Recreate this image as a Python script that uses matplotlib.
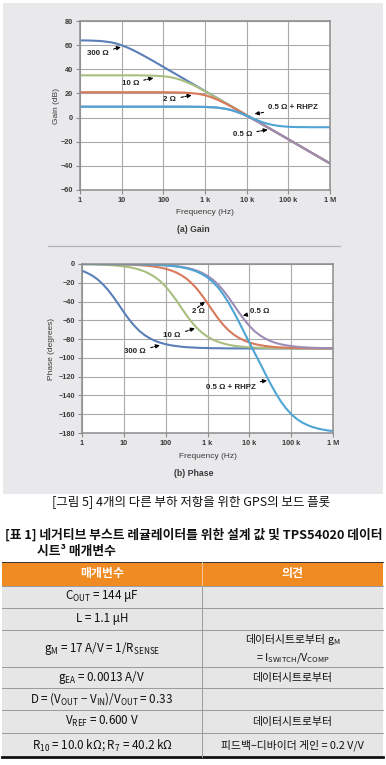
import matplotlib
matplotlib.use("Agg")
import matplotlib.pyplot as plt
from matplotlib.patches import Rectangle
from matplotlib.lines import Line2D

# ---------------- data ----------------
freq = [1, 1.33, 1.78, 2.37, 3.16, 4.22, 5.62, 7.5,
        10, 13.3, 17.8, 23.7, 31.6, 42.2, 56.2, 75,
        100, 133, 178, 237, 316, 422, 562, 750,
        1000, 1330, 1780, 2370, 3160, 4220, 5620, 7500,
        10000, 13300, 17800, 23700, 31600, 42200, 56200, 75000,
        100000, 133000, 178000, 237000, 316000, 422000, 562000, 750000,
        1000000]

series_names = ["300 Ω", "10 Ω", "2 Ω", "0.5 Ω", "0.5 Ω + RHPZ"]
series_colors = ["#5b7fb8", "#a9bf80", "#d8795a", "#9d8cb5", "#4ea5d4"]

gain_300 = [63.9, 63.9, 63.8, 63.6, 63.4, 62.9, 62.3, 61.3,
            59.9, 58.2, 56.3, 54.1, 51.8, 49.4, 47.0, 44.5,
            42.0, 39.5, 37.0, 34.5, 32.0, 29.5, 27.0, 24.5,
            22.0, 19.5, 17.0, 14.5, 12.0, 9.5, 7.0, 4.5,
            2.0, -0.5, -3.0, -5.5, -8.0, -10.5, -13.0, -15.5,
            -18.0, -20.5, -23.0, -25.5, -28.0, -30.5, -33.0, -35.5,
            -38.0]
gain_10 = [35.0, 35.0, 35.0, 35.0, 35.0, 35.0, 35.0, 35.0,
           35.0, 35.0, 35.0, 35.0, 34.9, 34.8, 34.7, 34.5,
           34.2, 33.7, 32.9, 31.7, 30.2, 28.4, 26.4, 24.1,
           21.8, 19.4, 16.9, 14.5, 12.0, 9.5, 7.0, 4.5,
           2.0, -0.5, -3.0, -5.5, -8.0, -10.5, -13.0, -15.5,
           -18.0, -20.5, -23.0, -25.5, -28.0, -30.5, -33.0, -35.5,
           -38.0]
gain_2 = [21.0, 21.0, 21.0, 21.0, 21.0, 21.0, 21.0, 21.0,
          21.0, 21.0, 21.0, 21.0, 21.0, 21.0, 21.0, 21.0,
          21.0, 20.9, 20.9, 20.8, 20.7, 20.4, 20.0, 19.4,
          18.5, 17.2, 15.5, 13.6, 11.5, 9.2, 6.8, 4.4,
          1.9, -0.5, -3.0, -5.5, -8.0, -10.5, -13.0, -15.5,
          -18.0, -20.5, -23.0, -25.5, -28.0, -30.5, -33.0, -35.5,
          -38.0]
gain_05 = [9.0, 9.0, 9.0, 9.0, 9.0, 9.0, 9.0, 9.0,
           9.0, 9.0, 9.0, 9.0, 9.0, 9.0, 9.0, 9.0,
           9.0, 9.0, 9.0, 9.0, 9.0, 9.0, 8.9, 8.9,
           8.8, 8.6, 8.4, 7.9, 7.2, 6.2, 4.9, 3.2,
           1.2, -1.0, -3.3, -5.7, -8.1, -10.5, -13.0, -15.5,
           -18.0, -20.5, -23.0, -25.5, -28.0, -30.5, -33.0, -35.5,
           -38.0]
gain_rhpz = [9.0, 9.0, 9.0, 9.0, 9.0, 9.0, 9.0, 9.0,
             9.0, 9.0, 9.0, 9.0, 9.0, 9.0, 9.0, 9.0,
             9.0, 9.0, 9.0, 9.0, 9.0, 9.0, 8.9, 8.9,
             8.8, 8.6, 8.4, 7.9, 7.2, 6.3, 5.0, 3.4,
             1.6, -0.3, -2.1, -3.8, -5.1, -6.1, -6.8, -7.3,
             -7.6, -7.8, -7.9, -7.9, -8.0, -8.0, -8.0, -8.0,
             -8.0]

phase_300 = [-7.1, -9.5, -12.5, -16.5, -21.6, -27.8, -35.1, -43.1,
             -51.3, -59.0, -65.8, -71.4, -75.8, -79.3, -81.9, -83.9,
             -85.4, -86.6, -87.4, -88.1, -88.6, -88.9, -89.2, -89.4,
             -89.5, -89.7, -89.7, -89.8, -89.9, -89.9, -89.9, -89.9,
             -90.0, -90.0, -90.0, -90.0, -90.0, -90.0, -90.0, -90.0,
             -90.0, -90.0, -90.0, -90.0, -90.0, -90.0, -90.0, -90.0,
             -90.0]
phase_10 = [-0.3, -0.3, -0.5, -0.6, -0.8, -1.1, -1.4, -1.9,
            -2.6, -3.4, -4.5, -6.0, -8.0, -10.7, -14.1, -18.5,
            -24.1, -30.8, -38.4, -46.6, -54.7, -62.0, -68.3, -73.4,
            -77.4, -80.5, -82.8, -84.6, -86.0, -87.0, -87.7, -88.3,
            -88.7, -89.0, -89.3, -89.5, -89.6, -89.7, -89.8, -89.8,
            -89.9, -89.9, -89.9, -89.9, -90.0, -90.0, -90.0, -90.0,
            -90.0]
phase_2 = [-0.1, -0.1, -0.1, -0.1, -0.2, -0.2, -0.3, -0.4,
           -0.5, -0.7, -0.9, -1.2, -1.6, -2.2, -2.9, -3.8,
           -5.1, -6.8, -9.0, -11.9, -15.7, -20.6, -26.6, -33.8,
           -41.7, -49.9, -57.8, -64.7, -70.5, -75.1, -78.7, -81.5,
           -83.6, -85.2, -86.4, -87.3, -88.0, -88.5, -88.9, -89.1,
           -89.4, -89.5, -89.6, -89.7, -89.8, -89.9, -89.9, -89.9,
           -89.9]
phase_05 = [0.0, 0.0, 0.0, 0.0, 0.0, -0.1, -0.1, -0.1,
            -0.1, -0.2, -0.2, -0.3, -0.4, -0.5, -0.7, -1.0,
            -1.3, -1.7, -2.3, -3.0, -4.1, -5.4, -7.2, -9.5,
            -12.6, -16.6, -21.7, -28.0, -35.3, -43.4, -51.5, -59.2,
            -65.9, -71.5, -75.9, -79.3, -82.0, -84.0, -85.5, -86.6,
            -87.4, -88.1, -88.6, -88.9, -89.2, -89.4, -89.5, -89.7,
            -89.7]
phase_rhpz = [0.0, 0.0, 0.0, 0.0, -0.1, -0.1, -0.1, -0.1,
              -0.1, -0.2, -0.3, -0.3, -0.5, -0.6, -0.8, -1.1,
              -1.5, -2.0, -2.6, -3.5, -4.6, -6.2, -8.2, -10.9,
              -14.4, -19.1, -24.9, -32.3, -41.0, -51.0, -61.6, -72.6,
              -83.5, -94.4, -105.2, -116.2, -127.0, -137.1, -146.1, -153.7,
              -159.9, -164.7, -168.5, -171.3, -173.5, -175.1, -176.3, -177.3,
              -177.9]

gains = [gain_300, gain_10, gain_2, gain_05, gain_rhpz]
phases = [phase_300, phase_10, phase_2, phase_05, phase_rhpz]

x_ticks = [1, 10, 100, 1000, 10000, 100000, 1000000]
x_tick_labels = ["1", "10", "100", "1 k", "10 k", "100 k", "1 M"]
gain_ticks = [-60, -40, -20, 0, 20, 40, 60, 80]
phase_ticks = [-180, -160, -140, -120, -100, -80, -60, -40, -20, 0]

# annotations: (label, arrow head x, y, text x, y, ha)
gain_notes = [
    ("300 Ω", 9.6, 58.5, 4.9, 53.0, "right"),
    ("10 Ω", 58, 32.8, 26, 28.5, "right"),
    ("2 Ω", 480, 18.6, 205, 14.8, "right"),
    ("0.5 Ω + RHPZ", 15500, 3.0, 33000, 8.6, "left"),
    ("0.5 Ω", 32000, -10.0, 13500, -13.8, "right"),
]
phase_notes = [
    ("300 Ω", 73, -86.5, 34, -93.5, "right"),
    ("10 Ω", 500, -68.5, 230, -76.5, "right"),
    ("0.5 Ω", 7000, -55.0, 10500, -50.5, "left"),
    ("0.5 Ω + RHPZ", 26500, -124.0, 14000, -131.5, "right"),
]
phase_note_2 = ("2 Ω", 870, -40.0, 620, -51.0)

caption = "[그림 5] 4개의 다른 부하 저항을 위한 GPS의 보드 플롯"
table_title_1 = "[표 1] 네거티브 부스트 레귤레이터를 위한 설계 값 및 TPS54020 데이터"
table_title_2 = "시트³ 매개변수"
table_header = ["매개변수", "의견"]
table_left = [
    r"C$_\mathregular{OUT}$ = 144 μF",
    "L = 1.1 μH",
    r"g$_\mathregular{M}$ = 17 A/V = 1/R$_\mathregular{SENSE}$",
    r"g$_\mathregular{EA}$ = 0.0013 A/V",
    r"D = (V$_\mathregular{OUT}$ − V$_\mathregular{IN}$)/V$_\mathregular{OUT}$ = 0.33",
    r"V$_\mathregular{REF}$ = 0.600 V",
    r"R$_\mathregular{10}$ = 10.0 kΩ; R$_\mathregular{7}$ = 40.2 kΩ",
]
table_right = [
    "",
    "",
    r"데이터시트로부터 g$_\mathregular{M}$" + "\n" + r"= I$_\mathregular{SWITCH}$/V$_\mathregular{COMP}$",
    "데이터시트로부터",
    "",
    "데이터시트로부터",
    "피드백–디바이더 게인 = 0.2 V/V",
]

# ---------------- layout helpers ----------------
W, H = 386, 765
fig = plt.figure(figsize=(W / 100, H / 100), dpi=100)
fig.patch.set_facecolor("white")


def fx(px):
    return px / W


def fy(py):
    return 1 - py / H


PLOT_FONT = "Liberation Sans"
KFONT = "Noto Sans CJK KR"
TICK_COLOR = "#3a3a3a"

# grey panel
fig.patches.append(Rectangle((fx(3), fy(494)), fx(380), 491 / H, transform=fig.transFigure,
                             facecolor="#e9e9eb", edgecolor="none", zorder=-5))
# separator line between the plots
fig.lines.append(Line2D([fx(48), fx(340)], [fy(246), fy(246)], transform=fig.transFigure,
                        color="#b4b4b4", lw=0.9, zorder=-4))


def style_axes(ax, yticks, ylim, ylabel, ylab_x, xlab_y):
    ax.set_facecolor("white")
    ax.set_xscale("log")
    ax.set_xlim(1, 1e6)
    ax.set_ylim(*ylim)
    ax.set_xticks(x_ticks)
    ax.set_xticklabels(x_tick_labels)
    ax.minorticks_off()
    ax.set_yticks(yticks)
    ax.set_yticklabels([("−%d" % -t) if t < 0 else "%d" % t for t in yticks])
    ax.grid(True, color="#a9a9a9", lw=0.8)
    ax.set_axisbelow(True)
    for s in ax.spines.values():
        s.set_color("#8c8c8c")
        s.set_linewidth(1.1)
    ax.tick_params(axis="both", length=3, width=0.8, color="#8c8c8c", pad=2,
                   labelsize=5.3, labelcolor=TICK_COLOR)
    for lab in ax.get_xticklabels() + ax.get_yticklabels():
        lab.set_fontfamily(PLOT_FONT)
        lab.set_fontweight("bold")
    ax.set_xlabel("Frequency (Hz)", fontsize=6, family=PLOT_FONT, color=TICK_COLOR)
    ax.set_ylabel(ylabel, fontsize=6, family=PLOT_FONT, color=TICK_COLOR)
    ax.xaxis.set_label_coords(0.5, xlab_y)
    ax.yaxis.set_label_coords(ylab_x, 0.5)


def note(ax, label, hx, hy, tx, ty, ha):
    ax.annotate(label, xy=(hx, hy), xytext=(tx, ty), ha=ha, va="center",
                fontsize=5.7, fontweight="bold", family=PLOT_FONT, color="#222222",
                arrowprops=dict(arrowstyle="-|>", color="black", lw=0.8,
                                linestyle=(0, (2.2, 1.2)), mutation_scale=6,
                                shrinkA=1.5, shrinkB=0))


# ---------------- gain plot ----------------
axg = fig.add_axes([fx(80), fy(190), fx(250), 169 / H])
for vals, c in zip(gains, series_colors):
    axg.plot(freq, vals, color=c, lw=1.5, solid_capstyle="butt", solid_joinstyle="round")
style_axes(axg, gain_ticks, (-60, 80), "Gain (dB)", -0.08, -0.112)
for n in gain_notes:
    note(axg, *n)
fig.text(fx(193), fy(229), "(a) Gain", ha="center", va="center", fontsize=6.3,
         fontweight="bold", family=PLOT_FONT, color=TICK_COLOR)

# ---------------- phase plot ----------------
axp = fig.add_axes([fx(82), fy(433), fx(251), 169 / H])
for vals, c in zip(phases, series_colors):
    axp.plot(freq, vals, color=c, lw=1.5, solid_capstyle="butt", solid_joinstyle="round")
style_axes(axp, phase_ticks, (-180, 0), "Phase (degrees)", -0.108, -0.118)
for n in phase_notes:
    note(axp, *n)
lab2, hx2, hy2, tx2, ty2 = phase_note_2
axp.annotate("", xy=(hx2, hy2), xytext=(tx2 * 0.93, hy2 - 6.5),
             arrowprops=dict(arrowstyle="-|>", color="black", lw=0.8,
                             linestyle=(0, (2.2, 1.2)), mutation_scale=6,
                             shrinkA=0, shrinkB=0))
axp.text(tx2, ty2, lab2, ha="center", va="center", fontsize=5.7, fontweight="bold",
         family=PLOT_FONT, color="#222222")
fig.text(fx(194), fy(473), "(b) Phase", ha="center", va="center", fontsize=6.3,
         fontweight="bold", family=PLOT_FONT, color=TICK_COLOR)

# ---------------- caption & table title ----------------
fig.text(fx(191), fy(503), caption, ha="center", va="center", fontsize=9.0,
         family=[KFONT, "DejaVu Sans"], color="#111111")
fig.text(fx(5), fy(535), table_title_1, ha="left", va="center", fontsize=9.2,
         family=[KFONT, "DejaVu Sans"], fontweight="bold", color="#111111")
fig.text(fx(37), fy(551), table_title_2, ha="left", va="center", fontsize=9.2,
         family=[KFONT, "DejaVu Sans"], fontweight="bold", color="#111111")

# ---------------- table ----------------
TL, TR, TM = 2, 383, 202
row_edges = [562, 585.5, 607.5, 630, 667, 688, 710, 733, 757]

# header
fig.patches.append(Rectangle((fx(TL), fy(row_edges[1])), fx(TR - TL), (row_edges[1] - row_edges[0]) / H,
                             transform=fig.transFigure, facecolor="#f08a22", edgecolor="none", zorder=-5))
# body
fig.patches.append(Rectangle((fx(TL), fy(row_edges[-1])), fx(TR - TL), (row_edges[-1] - row_edges[1]) / H,
                             transform=fig.transFigure, facecolor="#e6e6e6", edgecolor="none", zorder=-5))
# lines
fig.lines.append(Line2D([fx(TL), fx(TR)], [fy(row_edges[0]), fy(row_edges[0])],
                        transform=fig.transFigure, color="#333333", lw=0.7))
for e in row_edges[1:-1]:
    fig.lines.append(Line2D([fx(TL), fx(TR)], [fy(e), fy(e)], transform=fig.transFigure,
                            color="#9a9a9a", lw=0.7))
fig.lines.append(Line2D([fx(TL), fx(TR)], [fy(row_edges[-1]), fy(row_edges[-1])],
                        transform=fig.transFigure, color="#111111", lw=2.0))
fig.lines.append(Line2D([fx(TM), fx(TM)], [fy(row_edges[0]), fy(row_edges[1])],
                        transform=fig.transFigure, color="#f6c79a", lw=0.7))
fig.lines.append(Line2D([fx(TM), fx(TM)], [fy(row_edges[1]), fy(row_edges[-1])],
                        transform=fig.transFigure, color="#9a9a9a", lw=0.7))

hy = (row_edges[0] + row_edges[1]) / 2
fig.text(fx((TL + TM) / 2), fy(hy), table_header[0], ha="center", va="center", fontsize=8.6,
         fontweight="bold", family=[KFONT, "DejaVu Sans"], color="white")
fig.text(fx((TM + TR) / 2), fy(hy), table_header[1], ha="center", va="center", fontsize=8.6,
         fontweight="bold", family=[KFONT, "DejaVu Sans"], color="white")

for i, (lt, rt) in enumerate(zip(table_left, table_right)):
    cy = (row_edges[i + 1] + row_edges[i + 2]) / 2
    fig.text(fx((TL + TM) / 2), fy(cy), lt, ha="center", va="center", fontsize=8.4,
             family=KFONT, color="#111111")
    if rt:
        fig.text(fx((TM + TR) / 2), fy(cy), rt, ha="center", va="center", fontsize=7.8,
                 family=KFONT, color="#111111", linespacing=1.5, multialignment="center")

fig.savefig("out.png", dpi=100)
